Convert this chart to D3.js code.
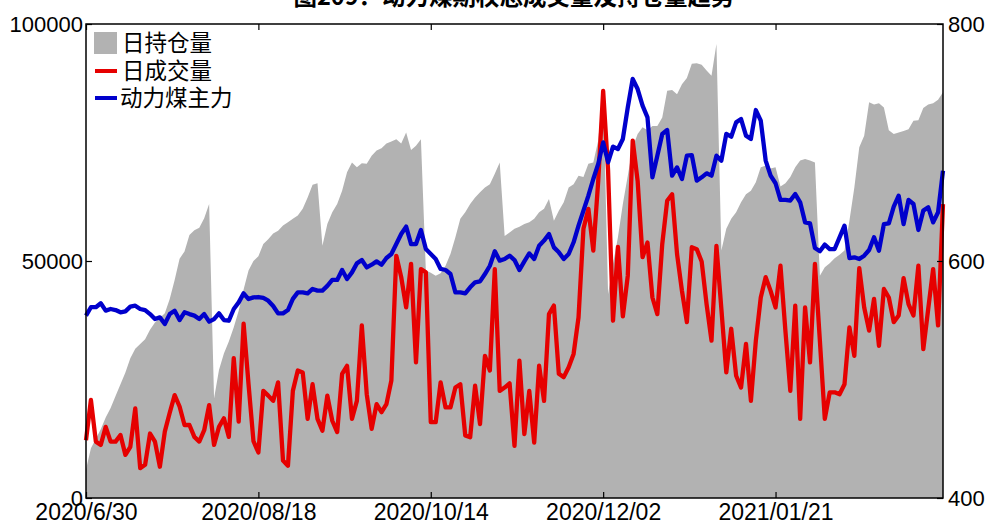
<!DOCTYPE html>
<html><head><meta charset="utf-8">
<script src="https://cdn.jsdelivr.net/npm/d3@7"></script>
<style>
html,body{margin:0;padding:0;background:#fff;}
svg{display:block;}
</style></head>
<body>
<svg id="chart" width="985" height="523"></svg>
<script>
const titleText = "图209：动力煤期权总成交量及持仓量趋势";
const seriesNames = ["日持仓量", "日成交量", "动力煤主力"];
const xTickIndex = [0, 35, 70, 105, 140];
const xTickLabels = ["2020/6/30", "2020/08/18", "2020/10/14", "2020/12/02", "2021/01/21"];
const leftTicks = [0, 50000, 100000];
const rightTicks = [400, 600, 800];

const openInterest = [
6000,10500,12500,14500,17000,19000,21500,24000,26500,29500,
31500,32500,33500,35500,37000,38000,39000,42000,46000,50500,
52000,55500,56500,57000,59000,62000,21000,27000,30500,33000,
36000,39500,44000,48000,50000,51000,53600,54600,55800,56400,
57500,58200,58900,59600,61000,63400,66100,66400,53200,57800,
60300,62000,64800,68700,70800,69800,70600,70500,72200,73300,
73800,74800,75200,75700,74800,77100,73400,74300,75700,48000,
47500,46900,47400,49000,51500,55000,58900,60300,62000,63400,
64500,65500,66200,68400,70800,55300,56000,56800,57200,57800,
58200,58900,60300,61000,63100,58500,60600,62400,65500,66200,
68000,67700,70500,70800,75400,86600,43000,49400,55000,62000,
68000,74000,76800,78200,77600,78500,78500,80300,85900,86100,
85200,87300,88600,91600,91700,91400,90200,89100,95800,52200,
56800,58900,60300,62400,64100,64800,66600,69800,70100,69500,
69800,65700,66400,67700,69800,71200,71500,71200,70800,46900,
48700,49500,50600,51300,52200,58500,65500,74000,76400,83500,
83000,83300,82400,77600,76800,77100,77400,77800,79600,79700,
82300,83000,83300,84000,85600];

const volume = [
12200,20700,11900,11200,15000,11900,11900,13300,9100,10800,
18900,6300,7000,13600,11900,6600,14000,18000,21700,19300,
15400,15400,12900,11900,14300,19600,11200,15000,16800,12900,
29500,16100,36800,24000,12000,9600,22600,21600,20500,24400,
7900,6800,22600,26900,26500,16700,24000,16700,14200,21600,
16300,13900,26200,27900,16700,20500,36400,21900,14600,19800,
18100,19800,24800,51100,46600,40200,49400,28600,48300,47600,
16000,16000,24400,19100,19100,23300,24000,13200,12800,23700,
15600,30000,26900,48300,22600,23300,24200,11000,29000,13500,
22600,11700,27900,20500,38800,40600,26200,25500,27600,30400,
38100,56800,61000,52200,66900,85900,69100,37400,53000,38300,
46900,75400,66900,50800,53900,42300,38800,53600,62700,64100,
51500,43700,37100,52900,52500,49900,40900,33200,53200,39900,
26500,35700,25800,23300,32500,20500,33200,42300,46600,43700,
40200,49000,35300,22600,40600,16700,40200,28600,49400,33200,
16700,22300,22300,21900,24000,36000,30000,48500,40200,35300,
42000,32100,44100,42300,37100,38500,46400,40900,38500,49000,
31400,39900,48300,36400,62000];

const mainPrice = [
553.9,561,561,564.3,558.1,559.5,558.6,556.7,557.5,561.5,
562.3,559.5,558.6,555.2,551,552.4,546.8,555.2,558.1,550.2,
556.7,555.2,553.9,551,555.2,548.8,551,555.8,550.2,549.6,
559.5,565.1,572.7,567.9,569.3,569.6,568.8,566.5,562,555.8,
555.8,558.6,568,573.5,573.5,572.7,576.4,575,575,579,
584,584,592.4,584.8,590.4,598,600.8,594.6,596.9,599.7,
596.9,602.5,605.9,614.3,622.8,629,614.3,614.3,626.2,610.1,
605.9,601.7,593.3,592.4,589,573.5,573.5,572.7,577.8,582,
582.8,589,596,608.2,600.3,601.7,604.5,600.8,592.4,599.7,
606.4,601.7,612.9,617.2,622.8,611.5,607.3,601.7,605.9,615.8,
629.8,642.5,655.1,669.2,681.9,700.1,683.3,696.5,694.5,703,
729.7,753.6,745.1,731.1,721.2,670.6,688.9,707.2,710.5,672,
679,669.2,688.9,689.4,667.8,670.6,674,672,688.9,684.7,
707.2,704.9,717,719.8,705.8,703,727.4,718.4,684.7,672,
665.6,651.5,651.5,651,656.5,649.5,632.6,631.8,611,608.2,
613.8,610.1,610.1,620,629.8,602.5,603.1,601.7,604.5,609.3,
620,608.7,631.2,631.8,645.8,655.1,631.2,651.5,648.1,626.2,
642.5,645.3,632.6,641.1,676.2];

const W = 985, H = 523;
const m = {left: 86, right: 42, top: 24, bottom: 25};
const svg = d3.select("#chart");
const numFont = "'Liberation Sans', Arial, sans-serif";
const cjkFont = "'Noto Sans CJK SC', 'Noto Sans', sans-serif";

const n = openInterest.length;
const x = d3.scaleLinear().domain([0, n - 1]).range([m.left, W - m.right]);
const yL = d3.scaleLinear().domain([0, 100000]).range([H - m.bottom, m.top]);
const yR = d3.scaleLinear().domain([400, 800]).range([H - m.bottom, m.top]);

// area
const area = d3.area().x((d, i) => x(i)).y0(yL(0)).y1(d => yL(d));
svg.append("path").datum(openInterest).attr("d", area).attr("fill", "#b2b2b2");

// lines
const lineL = d3.line().x((d, i) => x(i)).y(d => yL(d));
const lineR = d3.line().x((d, i) => x(i)).y(d => yR(d));
svg.append("path").datum(volume).attr("d", lineL).attr("fill", "none")
  .attr("stroke", "#e60000").attr("stroke-width", 4.3).attr("stroke-linejoin", "round");
svg.append("path").datum(mainPrice).attr("d", lineR).attr("fill", "none")
  .attr("stroke", "#0000cc").attr("stroke-width", 4.3).attr("stroke-linejoin", "round");

// frame
svg.append("rect").attr("x", m.left).attr("y", m.top)
  .attr("width", W - m.right - m.left).attr("height", H - m.bottom - m.top)
  .attr("fill", "none").attr("stroke", "#000").attr("stroke-width", 1.5);

function styleAxis(g, size) {
  g.select(".domain").remove();
  g.selectAll("line").attr("stroke", "#000").attr("stroke-width", 1.2);
  g.selectAll("text").attr("font-family", numFont).attr("font-size", size).attr("fill", "#000");
}

const gB = svg.append("g").attr("transform", `translate(0,${H - m.bottom})`)
  .call(d3.axisBottom(x).tickValues(xTickIndex).tickFormat((d, i) => xTickLabels[i])
    .tickSizeInner(-6).tickSizeOuter(0).tickPadding(6));
styleAxis(gB, "23px");
const gT = svg.append("g").attr("transform", `translate(0,${m.top})`)
  .call(d3.axisTop(x).tickValues(xTickIndex).tickFormat("").tickSizeInner(-6).tickSizeOuter(0));
styleAxis(gT, "1px");

const gL = svg.append("g").attr("transform", `translate(${m.left},0)`)
  .call(d3.axisLeft(yL).tickValues(leftTicks).tickFormat(d3.format("d"))
    .tickSizeInner(-6).tickSizeOuter(0).tickPadding(3));
styleAxis(gL, "22px");
const gR = svg.append("g").attr("transform", `translate(${W - m.right},0)`)
  .call(d3.axisRight(yR).tickValues(rightTicks).tickFormat(d3.format("d"))
    .tickSizeInner(-6).tickSizeOuter(0).tickPadding(5));
styleAxis(gR, "22px");

// title (cut at top)
svg.append("text").attr("x", 514).attr("y", 5)
  .attr("text-anchor", "middle").attr("font-family", cjkFont)
  .attr("font-weight", "bold").attr("font-size", "23.5px").text(titleText);

// legend
const leg = svg.append("g").attr("font-family", cjkFont).attr("font-size", "22.5px");
const legY = [43, 71, 98];
leg.append("rect").attr("x", 94).attr("y", legY[0] - 11).attr("width", 23).attr("height", 22).attr("fill", "#b2b2b2");
leg.append("line").attr("x1", 95).attr("x2", 117).attr("y1", legY[1]).attr("y2", legY[1])
  .attr("stroke", "#e60000").attr("stroke-width", 4);
leg.append("line").attr("x1", 95).attr("x2", 117).attr("y1", legY[2]).attr("y2", legY[2])
  .attr("stroke", "#0000cc").attr("stroke-width", 4);
seriesNames.forEach((s, i) => {
  leg.append("text").attr("x", i === 2 ? 120 : 122).attr("y", legY[i]).attr("dy", "0.36em")
    .attr("fill", "#000").text(s);
});
</script>
</body></html>
